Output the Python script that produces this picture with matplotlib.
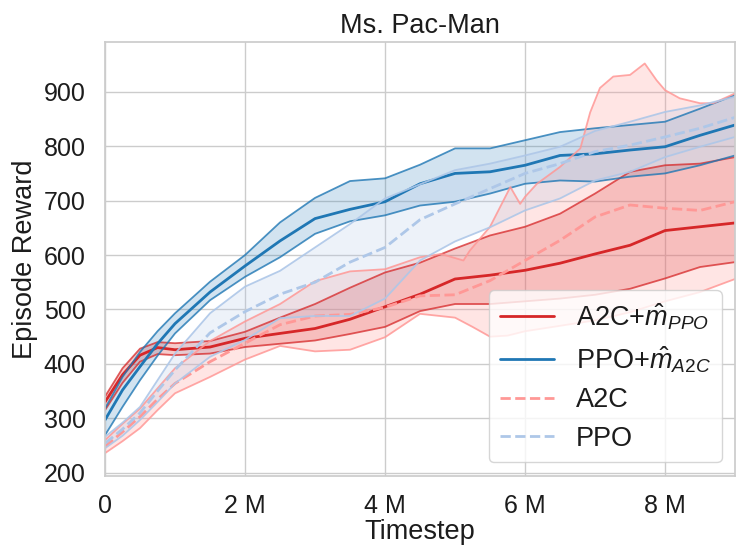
import numpy as np
import matplotlib
matplotlib.use("Agg")
import matplotlib.pyplot as plt
import seaborn as sns
from matplotlib.ticker import FuncFormatter, MultipleLocator

# ---- data (timesteps in millions, episode reward) ----
T = [0, .25, .5, .75, 1, 1.5, 2, 2.5, 3, 3.5, 4, 4.5, 5, 5.5, 6, 6.5, 7, 7.5, 8, 8.5, 9]

a2c_m_mean = [330, 380, 416, 430, 426, 431, 447, 456, 465, 482, 505, 528, 556, 563, 572, 585, 602, 618, 645, 652, 659]
a2c_m_hi = [340, 392, 428, 440, 438, 442, 459, 485, 510, 540, 568, 586, 612, 636, 652, 676, 713, 753, 765, 768, 780]
a2c_m_lo = [315, 365, 404, 418, 416, 419, 431, 437, 443, 455, 468, 497, 510, 510, 515, 520, 527, 538, 557, 578, 587]

ppo_m_mean = [297, 352, 395, 437, 474, 532, 580, 626, 667, 684, 698, 731, 750, 753, 765, 783, 786, 793, 799, 820, 839]
ppo_m_hi = [318, 376, 422, 460, 493, 551, 600, 660, 705, 736, 741, 766, 796, 796, 811, 826, 833, 839, 845, 869, 894]
ppo_m_lo = [269, 321, 370, 415, 456, 517, 560, 596, 639, 662, 673, 691, 698, 713, 731, 737, 735, 744, 750, 765, 783]

a2c_mean = [248, 275, 303, 335, 364, 404, 438, 472, 488, 491, 504, 525, 527, 553, 590, 627, 670, 692, 686, 682, 698]
a2c_hi_t = [0, .25, .5, .75, 1, 1.5, 2, 2.5, 3, 3.5, 4, 4.5, 4.8, 5.12, 5.21, 5.5, 5.79, 5.93, 6.0, 6.17,
            6.5, 6.79, 6.93, 7.07, 7.26, 7.5, 7.71, 7.88, 8.0, 8.21, 8.5, 8.69, 9]
a2c_hi = [260, 290, 318, 355, 392, 442, 478, 510, 552, 570, 574, 596, 602, 590, 608, 652, 725, 694, 707, 731,
          762, 796, 862, 907, 928, 931, 952, 921, 903, 888, 879, 879, 897]
a2c_lo_t = [0, .25, .5, .75, 1, 1.5, 2, 2.5, 3, 3.5, 4, 4.5, 5, 5.25, 5.5, 5.75, 6, 6.5, 7, 7.5, 8, 8.5, 9]
a2c_lo = [236, 258, 282, 315, 346, 376, 408, 433, 423, 426, 449, 492, 485, 468, 450, 452, 460, 470, 480, 495, 515, 532, 556]

ppo_mean = [254, 280, 310, 350, 389, 457, 496, 528, 550, 587, 614, 665, 694, 722, 750, 768, 790, 802, 817, 833, 853]
ppo_hi = [266, 292, 321, 370, 419, 493, 542, 571, 614, 657, 704, 730, 756, 768, 783, 799, 828, 845, 863, 875, 891]
ppo_lo = [245, 268, 297, 330, 364, 413, 444, 484, 488, 488, 520, 590, 625, 651, 682, 704, 737, 753, 780, 799, 817]

labels = [r"A2C+$\hat{m}_{PPO}$", r"PPO+$\hat{m}_{A2C}$", "A2C", "PPO"]
colors = ["#d62728", "#1f77b4", "#ff9896", "#aec7e8"]

# ---- style ----
sns.set_theme(style="whitegrid", font_scale=1.65)
plt.rcParams["font.family"] = ["Liberation Sans", "DejaVu Sans"]
plt.rcParams["mathtext.fontset"] = "custom"
plt.rcParams["mathtext.rm"] = "Liberation Sans"
plt.rcParams["mathtext.it"] = "Liberation Sans:italic"
plt.rcParams["mathtext.bf"] = "Liberation Sans:bold"
for k in ["text.color", "axes.labelcolor", "xtick.color", "ytick.color"]:
    plt.rcParams[k] = "#1c1c1c"

fig = plt.figure(figsize=(7.47, 5.6), dpi=100)
ax = fig.add_axes([0.1406, 0.15, 0.8434, 0.7755])

M = 1e6
def series(t_mean, mean, t_lo, lo, t_hi, hi, color, ls, label, falpha, balpha):
    tm = np.asarray(t_mean) * M
    tl = np.asarray(t_lo) * M
    th = np.asarray(t_hi) * M
    ax.fill(np.r_[th, tl[::-1]], np.r_[hi, lo[::-1]], color=color, alpha=falpha, lw=0)
    ax.plot(th, hi, color=color, lw=1.3, alpha=balpha)
    ax.plot(tl, lo, color=color, lw=1.3, alpha=balpha)
    ax.plot(tm, mean, color=color, lw=2.0, ls=ls, label=label)

series(T, a2c_m_mean, T, np.array(a2c_m_lo), T, np.array(a2c_m_hi), colors[0], "-", labels[0], 0.24, 0.75)
series(T, ppo_m_mean, T, np.array(ppo_m_lo), T, np.array(ppo_m_hi), colors[1], "-", labels[1], 0.2, 0.8)
series(T, a2c_mean, a2c_lo_t, np.array(a2c_lo), a2c_hi_t, np.array(a2c_hi), colors[2], "--", labels[2], 0.25, 0.85)
series(T, ppo_mean, T, np.array(ppo_lo), T, np.array(ppo_hi), colors[3], "--", labels[3], 0.22, 0.9)

ax.set_xlim(0, 9 * M)
ax.set_ylim(194, 992)
ax.xaxis.set_major_locator(MultipleLocator(2 * M))
ax.yaxis.set_major_locator(MultipleLocator(100))
ax.xaxis.set_major_formatter(FuncFormatter(lambda v, p: "0" if v == 0 else f"{int(round(v / M))} M"))

ax.set_title("Ms. Pac-Man", fontsize=19.5)
ax.set_xlabel("Timestep", fontsize=19.5, labelpad=1)
ax.set_ylabel("Episode Reward", fontsize=19.5, labelpad=4)
ax.tick_params(axis="x", labelsize=18, pad=7)
ax.tick_params(axis="y", labelsize=18, pad=8)

ax.legend(loc="lower right", fontsize=19.5, frameon=True, labelspacing=0.45)

fig.savefig("out.png", dpi=100)
